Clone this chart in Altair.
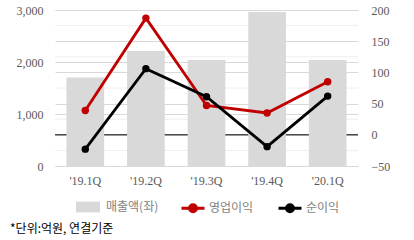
import altair as alt
import pandas as pd

quarters = ["'19.1Q", "'19.2Q", "'19.3Q", "'19.4Q", "'20.1Q"]
sales = [1700, 2210, 2040, 2960, 2040]
op_profit = [39, 187, 47, 35, 85]
net_profit = [-23, 106, 61, -19, 62]
left_ticks = [0, 1000, 2000, 3000]
right_ticks = [-50, 0, 50, 100, 150, 200]
minor_ticks = [-25, 25, 75, 125, 175]
zero_line = [0]

sales_df = pd.DataFrame({"q": quarters, "v": sales, "s": ["매출액(좌)"] * len(quarters)})
line_df = pd.DataFrame({
    "q": quarters * 2,
    "v": op_profit + net_profit,
    "s": ["영업이익"] * len(quarters) + ["순이익"] * len(quarters),
})
minor_df = pd.DataFrame({"v": minor_ticks})
zero_df = pd.DataFrame({"v": zero_line})

NUM_FONT = "Liberation Serif"
KR_FONT = "Noto Sans CJK KR"
RED = "#c00000"

x_enc = alt.X(
    "q:N", sort=quarters, title=None,
    scale=alt.Scale(paddingInner=0.38, paddingOuter=0.19),
    axis=alt.Axis(labelAngle=0, domain=False, ticks=False, labelFont=NUM_FONT,
                  labelFontSize=12, labelColor="#595959", labelPadding=9),
)
r_scale = alt.Scale(domain=[-50, 200], nice=False, zero=False)

minor = alt.Chart(minor_df).mark_rule(color="#eeeeee", strokeWidth=1).encode(
    y=alt.Y("v:Q", scale=r_scale, axis=None)
)
zero = alt.Chart(zero_df).mark_rule(color="#000000", strokeWidth=1).encode(
    y=alt.Y("v:Q", scale=r_scale, axis=None)
)
back = alt.layer(minor, zero)

bars = alt.Chart(sales_df).mark_bar(size=37.7).encode(
    x=x_enc,
    y=alt.Y("v:Q", scale=alt.Scale(domain=[0, 3000], nice=False),
            axis=alt.Axis(orient="left", values=left_ticks, format=",.0f", grid=True,
                          gridColor="#d9d9d9", domain=False, ticks=False, title=None,
                          labelFont=NUM_FONT, labelFontSize=12, labelColor="#595959",
                          labelPadding=12)),
    color=alt.Color("s:N", scale=alt.Scale(domain=["매출액(좌)"], range=["#d9d9d9"]),
                    legend=alt.Legend(title=None, orient="none", legendX=21, legendY=185,
                                      symbolType="M-1,-0.45H1V0.45H-1Z", symbolSize=576,
                                      symbolStrokeWidth=0, labelFont=KR_FONT,
                                      labelFontSize=12, labelColor="#7f7f7f",
                                      labelOffset=6, padding=0)),
)

line_color = alt.Color(
    "s:N", scale=alt.Scale(domain=["영업이익", "순이익"], range=[RED, "#000000"]),
    legend=alt.Legend(
        title=None, orient="none", direction="horizontal", legendX=125, legendY=185,
        symbolType="M-1,0H1M-0.3,0A0.3,0.3 0 1,0 0.3,0A0.3,0.3 0 1,0 -0.3,0Z",
        symbolSize=529, symbolStrokeWidth=3, columnPadding=18, labelOffset=3,
        labelFont=KR_FONT, labelFontSize=12, labelColor="#7f7f7f", padding=0,
        symbolFillColor=alt.ExprRef("datum.value === '영업이익' ? '#c00000' : '#000000'"),
    ),
)
r_y = alt.Y("v:Q", scale=r_scale,
            axis=alt.Axis(orient="right", values=right_ticks, grid=True, gridColor="#d9d9d9",
                          domain=False, ticks=False, title=None, labelFont=NUM_FONT,
                          labelFontSize=12, labelColor="#595959", labelPadding=13))

lines = alt.Chart(line_df).mark_line(strokeWidth=2.8).encode(
    x=alt.X("q:N", sort=quarters), y=r_y, color=line_color, detail="s:N"
)
points = alt.Chart(line_df).mark_circle(size=55, opacity=1).encode(
    x=alt.X("q:N", sort=quarters), y=r_y,
    color=alt.Color("s:N", scale=alt.Scale(domain=["영업이익", "순이익"], range=[RED, "#000000"]),
                    legend=None),
)
front = alt.layer(lines, points)

chart = alt.layer(back, bars, front).resolve_scale(
    y="independent", color="independent"
).properties(
    width=303, height=156,
    autosize=alt.AutoSizeParams(type="none"),
    padding={"left": 55, "top": 10, "right": 56, "bottom": 74},
    title=alt.TitleParams("*단위:억원, 연결기준", orient="bottom", anchor="start", frame="group",
                          font=KR_FONT, fontSize=12, fontWeight="normal", color="#000000",
                          dx=-45, offset=6),
    background="white",
).configure_view(stroke=None)

chart.save("out.html", embed_options={"renderer": "svg", "actions": False})
